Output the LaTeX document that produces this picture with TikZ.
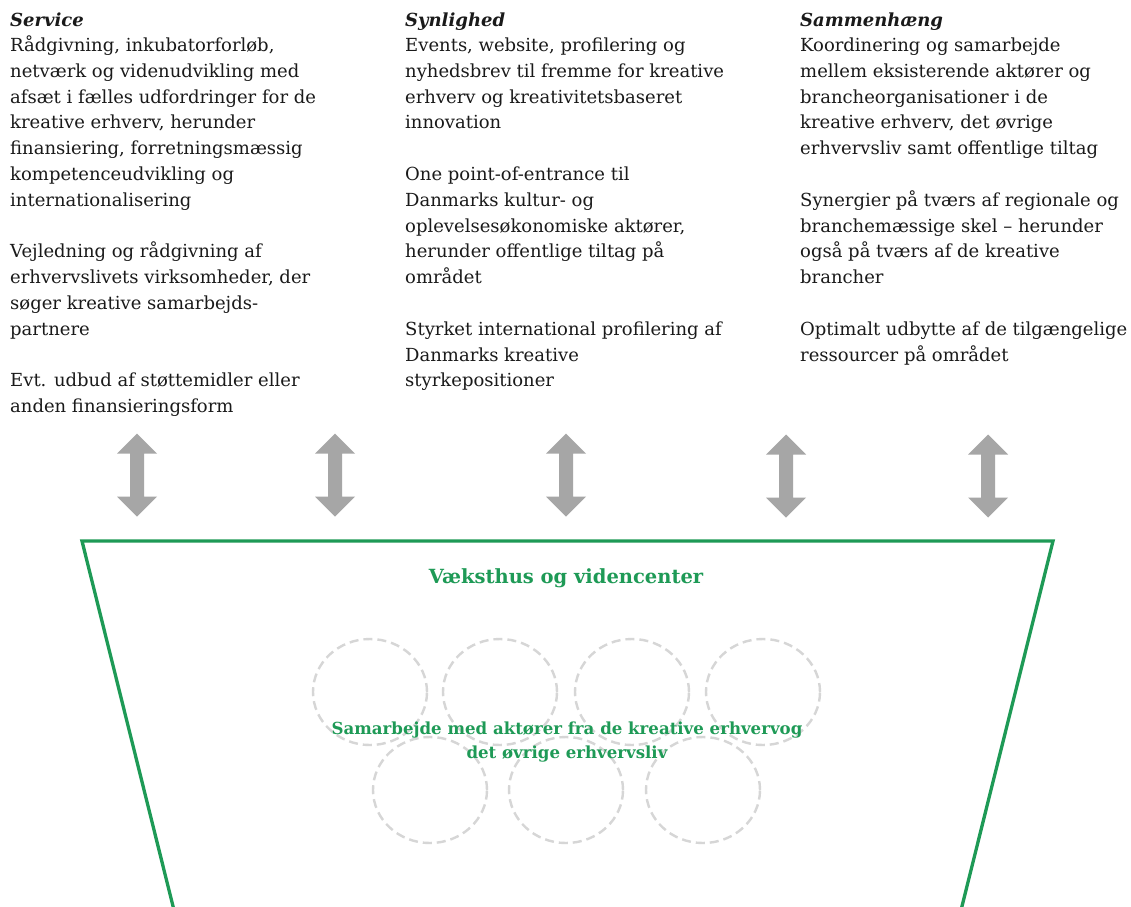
\documentclass[tikz,border=0pt]{standalone}
\usepackage{fontspec}
\setmainfont{DejaVu Serif}
\usetikzlibrary{shapes.geometric}
\definecolor{grn}{HTML}{1E9A56}
\definecolor{agray}{HTML}{A6A6A6}
\definecolor{cgray}{HTML}{D6D6D6}
\definecolor{ink}{HTML}{1A1A1A}
\tikzset{
  coltext/.style={anchor=north west, inner sep=0pt, align=left, text=ink,
    font=\fontsize{18}{25.8}\selectfont},
  ring/.style={ellipse, draw=cgray, line width=2.4pt, dash pattern=on 9pt off 5pt,
    minimum width=114pt, minimum height=106pt, inner sep=0pt},
  dblarr/.pic={\fill[agray] (0,-41.5) -- (20,-21.5) -- (7,-21.5) -- (7,21.5) -- (20,21.5)
    -- (0,41.5) -- (-20,21.5) -- (-7,21.5) -- (-7,-21.5) -- (-20,-21.5) -- cycle;},
  frameline/.style={draw=grn, line width=3.3pt, line join=miter},
  greentitle/.style={text=grn, font=\bfseries\fontsize{19.5}{23}\selectfont, inner sep=0pt},
  greenlabel/.style={text=grn, font=\bfseries\fontsize{16.6}{24}\selectfont, align=center, inner sep=0pt}
}
\begin{document}
\begin{tikzpicture}[x=1pt,y=-1pt]
\useasboundingbox (0,0) rectangle (1131,906);
\fill[white] (0,0) rectangle (1131,906);

% text columns
\node[coltext] (service) at (10,8.5) {\strut\textbf{\textit{Service}}\\[-1pt]
Rådgivning, inkubatorforløb,\\
netværk og videnudvikling med\\
afsæt i fælles udfordringer for de\\
kreative erhverv, herunder\\
finansiering, forretningsmæssig\\
kompetenceudvikling og\\
internationalisering\\[25.8pt]
Vejledning og rådgivning af\\
erhvervslivets virksomheder, der\\
søger kreative samarbejds-\\
partnere\\[25.8pt]
Evt. udbud af støttemidler eller\\
anden finansieringsform};

\node[coltext] (synlighed) at (405,8.5) {\strut\textbf{\textit{Synlighed}}\\[-1pt]
Events, website, profilering og\\
nyhedsbrev til fremme for kreative\\
erhverv og kreativitetsbaseret\\
innovation\\[25.8pt]
One point-of-entrance til\\
Danmarks kultur- og\\
oplevelsesøkonomiske aktører,\\
herunder offentlige tiltag på\\
området\\[25.8pt]
Styrket international profilering af\\
Danmarks kreative\\
styrkepositioner};

\node[coltext] (sammenhaeng) at (800,8.5) {\strut\textbf{\textit{Sammenhæng}}\\[-1pt]
Koordinering og samarbejde\\
mellem eksisterende aktører og\\
brancheorganisationer i de\\
kreative erhverv, det øvrige\\
erhvervsliv samt offentlige tiltag\\[25.8pt]
Synergier på tværs af regionale og\\
branchemæssige skel – herunder\\
også på tværs af de kreative\\
brancher\\[25.8pt]
Optimalt udbytte af de tilgængelige\\
ressourcer på området};

% double arrows
\pic (a1) at (137,475) {dblarr};
\pic (a2) at (335,475) {dblarr};
\pic (a3) at (566,475) {dblarr};
\pic (a4) at (786,476) {dblarr};
\pic (a5) at (988,476) {dblarr};

% dashed circles
\node[ring] (r1) at (370,692) {};
\node[ring] (r2) at (500,692) {};
\node[ring] (r3) at (632,692) {};
\node[ring] (r4) at (763,692) {};
\node[ring] (r5) at (430,790) {};
\node[ring] (r6) at (566,790) {};
\node[ring] (r7) at (703,790) {};

% trapezoid frame
\coordinate (bl) at (175.2,915);
\coordinate (tl) at (82,541);
\coordinate (tr) at (1053,541);
\coordinate (br) at (959.8,915);
\draw[frameline] (bl) -- (tl) -- (tr) -- (br);

\node[greentitle] (vh) at (566,578) {Væksthus og videncenter};
\node[greenlabel] (samarb) at (567,742) {Samarbejde med aktører fra de kreative erhvervog\\det øvrige erhvervsliv};
\end{tikzpicture}
\end{document}
